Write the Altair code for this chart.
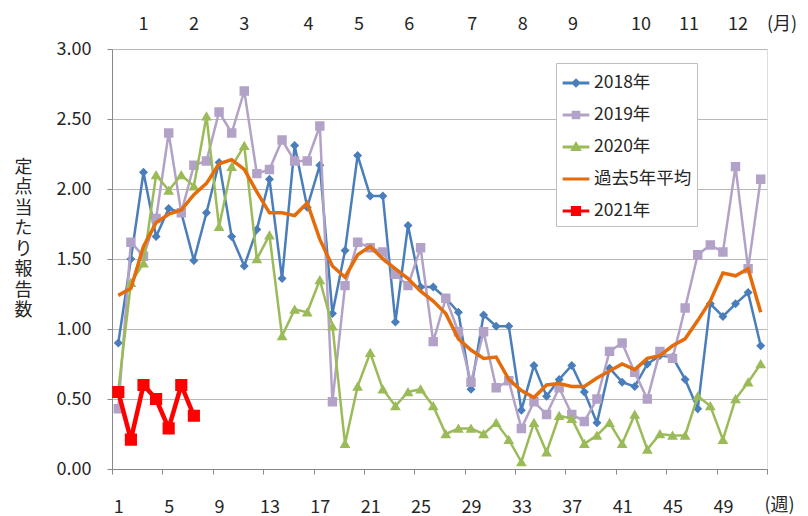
import altair as alt
import pandas as pd

weeks = list(range(1, 53))

y2018 = [0.90, 1.50, 2.12, 1.66, 1.86, 1.83, 1.49, 1.83, 2.19, 1.66,
         1.45, 1.71, 2.07, 1.36, 2.31, 1.87, 2.17, 1.11, 1.56, 2.24,
         1.95, 1.95, 1.05, 1.74, 1.30, 1.30, 1.22, 1.12, 0.57, 1.10,
         1.02, 1.02, 0.42, 0.74, 0.52, 0.64, 0.74, 0.55, 0.33, 0.72,
         0.62, 0.59, 0.75, 0.81, 0.80, 0.64, 0.43, 1.18, 1.09, 1.18,
         1.26, 0.88]
y2019 = [0.43, 1.62, 1.52, 1.79, 2.40, 1.83, 2.17, 2.20, 2.55, 2.40,
         2.70, 2.11, 2.14, 2.35, 2.20, 2.20, 2.45, 0.48, 1.31, 1.62,
         1.58, 1.55, 1.39, 1.31, 1.58, 0.91, 1.22, 0.98, 0.62, 0.98,
         0.58, 0.63, 0.29, 0.48, 0.39, 0.58, 0.39, 0.34, 0.50, 0.84,
         0.90, 0.69, 0.50, 0.84, 0.79, 1.15, 1.53, 1.60, 1.55, 2.16,
         1.43, 2.07]
y2020 = [0.56, 1.33, 1.47, 2.10, 1.99, 2.10, 2.02, 2.52, 1.73, 2.16,
         2.31, 1.50, 1.67, 0.95, 1.14, 1.12, 1.35, 1.02, 0.18, 0.59,
         0.83, 0.57, 0.45, 0.55, 0.57, 0.45, 0.25, 0.29, 0.29, 0.25,
         0.33, 0.21, 0.05, 0.33, 0.12, 0.38, 0.36, 0.18, 0.24, 0.33,
         0.18, 0.39, 0.14, 0.25, 0.24, 0.24, 0.52, 0.45, 0.21, 0.50,
         0.62, 0.75]
avg5 = [1.24, 1.29, 1.59, 1.76, 1.82, 1.85, 1.96, 2.04, 2.18, 2.21,
        2.14, 1.98, 1.83, 1.83, 1.81, 1.90, 1.64, 1.45, 1.37, 1.53,
        1.59, 1.50, 1.43, 1.36, 1.27, 1.20, 1.11, 0.93, 0.85, 0.79,
        0.80, 0.64, 0.56, 0.51, 0.60, 0.61, 0.59, 0.59, 0.65, 0.70,
        0.75, 0.71, 0.79, 0.81, 0.88, 0.93, 1.06, 1.20, 1.40, 1.38,
        1.43, 1.12]
y2021 = [0.55, 0.21, 0.60, 0.50, 0.29, 0.60, 0.38]

series_names = ["2018年", "2019年", "2020年", "過去5年平均", "2021年"]
series_values = [y2018, y2019, y2020, avg5, y2021]

month_labels = ["1", "2", "3", "4", "5", "6", "7", "8", "9", "10", "11", "12", "(月)"]
month_weeks = [3.0, 7.0, 11.0, 16.1, 20.1, 24.1, 29.1, 33.1, 37.1, 42.5, 46.3, 50.2, 53.7]
week_unit_label = ["(週)"]
week_unit_pos = [53.5]

y_title = "定点当たり報告数"

# styles
colors = ["#4A7EBB", "#B3A2C7", "#9BBB59", "#E46C0A", "#FF0000"]
line_widths = [2.5, 2.5, 2.5, 3.5, 4.5]
shapes = [
    "M-1,0H1M0,-0.2L0.2,0L0,0.2L-0.2,0Z",
    "M-1,0H1M-0.21,-0.21H0.21V0.21H-0.21Z",
    "M-1,0H1M0,-0.22L0.24,0.19H-0.24Z",
    "M-1,0H1",
    "M-1,0H1M-0.27,-0.27H0.27V0.27H-0.27Z",
]
has_marker = [True, True, True, False, True]

rows = []
for name, vals in zip(series_names, series_values):
    for w, v in zip(weeks, vals):
        rows.append({"week": w, "value": v, "series": name})
df = pd.DataFrame(rows)

FONT = "Noto Sans CJK JP"
TXT = "#262626"

legend = alt.Legend(
    title=None, orient="none", legendX=444, legendY=14,
    symbolSize=713, symbolStrokeWidth=3, labelFontSize=17.5, labelFont=FONT,
    labelColor=TXT, labelOffset=3, rowPadding=8, padding=5,
    strokeColor="#BFBFBF", fillColor="white", symbolOpacity=1,
)
color_enc = alt.Color("series:N", scale=alt.Scale(domain=series_names, range=colors), legend=legend)
shape_enc = alt.Shape("series:N", scale=alt.Scale(domain=series_names, range=shapes), legend=legend)

x_ticks = [0.5 + 4 * i for i in range(14)]
x_enc = alt.X(
    "week:Q",
    scale=alt.Scale(domain=[0.5, 52.5], nice=False, zero=False),
    axis=alt.Axis(
        values=x_ticks, labelExpr="datum.value < 50 ? format(datum.value + 0.5, 'd') : ''",
        labelOffset=6.3, labelFlush=False, labelOverlap=False, grid=False, title=None,
        tickSize=5, tickColor="#888888", domainColor="#888888", labelFontSize=18,
        labelFont=FONT, labelColor=TXT, labelPadding=24,
    ),
)
y_enc = alt.Y(
    "value:Q",
    scale=alt.Scale(domain=[0, 3], nice=False, zero=True),
    axis=alt.Axis(
        values=[0, 0.5, 1, 1.5, 2, 2.5, 3], format=".2f", grid=True, gridColor="#B8B8B8",
        tickSize=5, tickColor="#888888", domainColor="#888888", labelFontSize=18,
        labelFont=FONT, labelColor=TXT, labelPadding=16,
        title=list(y_title), titleAngle=0, titleFontSize=18, titleFont=FONT,
        titleFontWeight="normal", titleColor=TXT, titleLineHeight=20.5,
        titleAlign="center", titleBaseline="top", titleX=-89, titleY=109,
    ),
)

base = alt.Chart(df)
layers = []
for name, w, mk in zip(series_names, line_widths, has_marker):
    sub = base.transform_filter(alt.datum.series == name)
    layers.append(sub.mark_line(strokeWidth=w).encode(x=x_enc, y=y_enc, color=color_enc))
    if mk:
        layers.append(
            sub.mark_point(filled=True, opacity=1, size=2025).encode(
                x=x_enc, y=y_enc, color=color_enc, shape=shape_enc
            )
        )

months_df = pd.DataFrame({"week": month_weeks, "label": month_labels})
month_text = alt.Chart(months_df).mark_text(
    fontSize=18, font=FONT, color=TXT, baseline="middle", align="center"
).encode(x=alt.X("week:Q"), y=alt.value(-24), text="label:N")

wk_df = pd.DataFrame({"week": week_unit_pos, "label": week_unit_label})
week_text = alt.Chart(wk_df).mark_text(
    fontSize=18, font=FONT, color=TXT, baseline="middle", align="center"
).encode(x=alt.X("week:Q"), y=alt.value(457), text="label:N")

chart = alt.layer(*layers, month_text, week_text).properties(
    width=655, height=420,
    autosize=alt.AutoSizeParams(type="none"),
    padding={"left": 104, "top": 41, "right": 33, "bottom": 47},
).configure_view(stroke=None).configure(font=FONT)

chart.save("out.html", embed_options={"renderer": "svg", "actions": False})
